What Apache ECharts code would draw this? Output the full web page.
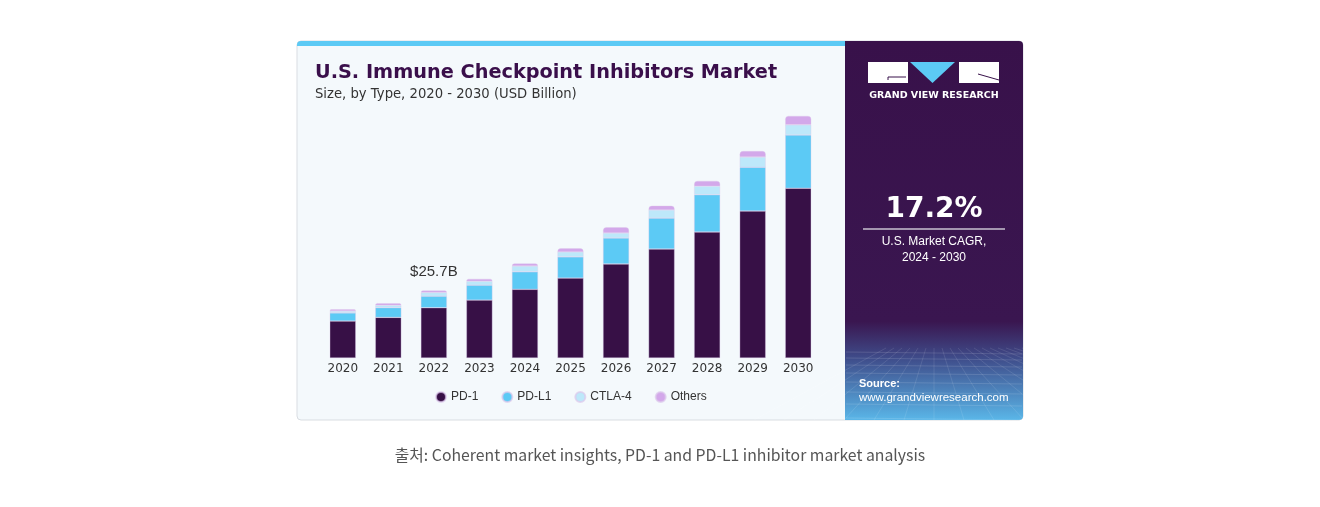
<!DOCTYPE html>
<html>
<head>
<meta charset="utf-8">
<script src="https://cdn.jsdelivr.net/npm/echarts@6/dist/echarts.min.js"></script>
<style>
  html, body { margin: 0; padding: 0; background: #fff; }
  #chart { width: 1320px; height: 507px; }
</style>
</head>
<body>
<div id="chart"></div>
<script>
// values (USD Billion)
const years = ['2020', '2021', '2022', '2023', '2024', '2025', '2026', '2027', '2028', '2029', '2030'];
const pd1 = [14.1, 15.5, 19.2, 22.1, 26.2, 30.5, 35.9, 41.6, 48.1, 56.1, 64.8];
const pdl1 = [3.1, 3.7, 4.4, 5.7, 6.7, 8.1, 9.9, 11.8, 14.2, 16.7, 20.3];
const ctla4 = [0.7, 0.9, 1.4, 1.5, 2.2, 1.9, 1.9, 3.1, 3.3, 3.9, 3.9];
const others = [0.7, 0.8, 0.8, 0.9, 1.0, 1.4, 2.2, 1.6, 2.0, 2.3, 3.4];
const highlightIndex = 2;
const highlightLabel = '$25.7B';

const colors = ['#371046', '#5ccaf5', '#bde8fa', '#d3a8ea'];
const font = '"Liberation Sans", Arial, sans-serif';
const wide = '"DejaVu Sans", sans-serif';

const chart = echarts.init(document.getElementById('chart'));

// perspective grid lines for the bottom of the side panel
const gridLines = [];
const hY = [352, 358, 365, 373, 382, 392, 404, 418];
hY.forEach(y => {
    gridLines.push({
        type: 'line', silent: true,
        shape: { x1: 846, y1: y, x2: 1022, y2: y + 2 },
        style: { stroke: 'rgba(255,255,255,0.18)', lineWidth: 0.7 }
    });
});
for (let i = -6; i <= 12; i++) {
    gridLines.push({
        type: 'line', silent: true,
        shape: { x1: 934 + i * 8, y1: 348, x2: 934 + i * 30, y2: 420 },
        style: { stroke: 'rgba(255,255,255,0.15)', lineWidth: 0.7 }
    });
}

const barSeries = (name, data, idx) => ({
    name: name,
    type: 'bar',
    stack: 'total',
    barWidth: 26,
    data: data,
    itemStyle: {
        color: colors[idx],
        borderColor: 'rgba(220,200,235,0.7)',
        borderWidth: 0.5,
        borderRadius: idx === 3 ? [3, 3, 0, 0] : 0
    },
    emphasis: { disabled: true }
});

const othersData = others.map((v, i) => i === highlightIndex ? {
    value: v,
    label: {
        show: true, position: 'top', distance: 11,
        formatter: highlightLabel, fontSize: 15, color: '#333', fontFamily: font
    }
} : v);

chart.setOption({
    animation: false,
    backgroundColor: '#ffffff',
    grid: { left: 320, width: 501, top: 96, bottom: 149 },
    xAxis: {
        type: 'category',
        data: years,
        axisLine: { show: false },
        axisTick: { show: false },
        axisLabel: { color: '#333', fontSize: 12, margin: 5, fontFamily: wide }
    },
    yAxis: {
        type: 'value', min: 0, max: 100,
        show: false, splitLine: { show: false }
    },
    legend: {
        left: 430, top: 386,
        icon: 'circle', itemWidth: 10, itemHeight: 10, itemGap: 23,
        textStyle: { color: '#333', fontSize: 12, fontFamily: font },
        data: ['PD-1', 'PD-L1', 'CTLA-4', 'Others']
    },
    graphic: [
        // card
        { type: 'rect', z: -10, silent: true,
          shape: { x: 297, y: 41, width: 726, height: 379, r: 4 },
          style: { fill: '#f4f9fc', stroke: '#d9dde2', lineWidth: 1 } },
        { type: 'rect', z: -9, silent: true,
          shape: { x: 297, y: 41, width: 548, height: 5, r: [4, 0, 0, 0] },
          style: { fill: '#5ccaf5' } },
        // side panel
        { type: 'rect', z: -9, silent: true,
          shape: { x: 845, y: 41, width: 178, height: 379, r: [0, 4, 4, 0] },
          style: { fill: new echarts.graphic.LinearGradient(0, 0, 0, 1, [
              { offset: 0, color: '#38114a' },
              { offset: 0.74, color: '#3a1650' },
              { offset: 0.84, color: '#3f4e8c' },
              { offset: 1, color: '#5ab6e8' }
          ]) } },
        { type: 'group', z: -8, silent: true, children: gridLines },
        // logo
        { type: 'rect', silent: true, shape: { x: 868, y: 62, width: 40, height: 21 }, style: { fill: '#fff' } },
        { type: 'polyline', silent: true, shape: { points: [[906, 77], [888, 77], [888, 80]] },
          style: { stroke: '#38114a', lineWidth: 1, fill: null } },
        { type: 'polygon', silent: true, shape: { points: [[910, 62], [955, 62], [932.5, 83]] }, style: { fill: '#5ccaf5' } },
        { type: 'rect', silent: true, shape: { x: 959, y: 62, width: 40, height: 21 }, style: { fill: '#fff' } },
        { type: 'line', silent: true, shape: { x1: 978, y1: 74, x2: 999, y2: 80 },
          style: { stroke: '#38114a', lineWidth: 1 } },
        { type: 'text', silent: true, x: 934, y: 96,
          style: { text: 'GRAND VIEW RESEARCH', fill: '#fff', font: 'bold 9.5px ' + wide,
                   align: 'center', verticalAlign: 'middle' } },
        // CAGR block
        { type: 'text', silent: true, x: 934, y: 210,
          style: { text: '17.2%', fill: '#fff', font: 'bold 28px ' + wide,
                   align: 'center', verticalAlign: 'middle' } },
        { type: 'line', silent: true, shape: { x1: 863, y1: 229, x2: 1005, y2: 229 },
          style: { stroke: '#c9c2d0', lineWidth: 1.5 } },
        { type: 'text', silent: true, x: 934, y: 242,
          style: { text: 'U.S. Market CAGR,', fill: '#fff', font: '12px ' + font,
                   align: 'center', verticalAlign: 'middle' } },
        { type: 'text', silent: true, x: 934, y: 258,
          style: { text: '2024 - 2030', fill: '#fff', font: '12px ' + font,
                   align: 'center', verticalAlign: 'middle' } },
        // source
        { type: 'text', silent: true, x: 859, y: 384,
          style: { text: 'Source:', fill: '#fff', font: 'bold 11px ' + font, verticalAlign: 'middle' } },
        { type: 'text', silent: true, x: 859, y: 398,
          style: { text: 'www.grandviewresearch.com', fill: '#fff', font: '11.5px ' + font, verticalAlign: 'middle' } },
        // titles
        { type: 'text', silent: true, x: 315, y: 73,
          style: { text: 'U.S. Immune Checkpoint Inhibitors Market', fill: '#3a0f4b',
                   font: 'bold 19.3px ' + wide, verticalAlign: 'middle' } },
        { type: 'text', silent: true, x: 315, y: 95,
          style: { text: 'Size, by Type, 2020 - 2030 (USD Billion)', fill: '#333',
                   font: '13.2px ' + wide, verticalAlign: 'middle' } },
        // caption under the card
        { type: 'text', silent: true, x: 660, y: 455,
          style: { text: '출처: Coherent market insights, PD-1 and PD-L1 inhibitor market analysis',
                   fill: '#555', font: '15.8px "Noto Sans CJK KR", "Noto Sans", sans-serif',
                   align: 'center', verticalAlign: 'middle' } }
    ],
    series: [
        barSeries('PD-1', pd1, 0),
        barSeries('PD-L1', pdl1, 1),
        barSeries('CTLA-4', ctla4, 2),
        barSeries('Others', othersData, 3)
    ]
});
</script>
</body>
</html>
